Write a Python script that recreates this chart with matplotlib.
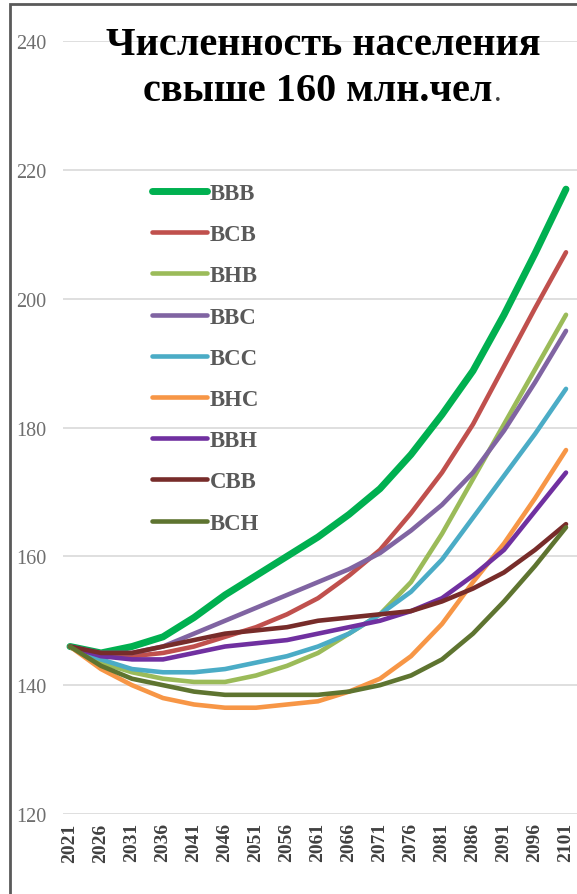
import matplotlib.pyplot as plt
from matplotlib.patches import Rectangle

# Population projections by scenario, million people
years = list(range(2021, 2102, 5))

bbb = [146, 145, 146, 147.5, 150.5, 154, 157, 160, 163, 166.5, 170.5, 175.8, 182, 188.8, 197.5, 207, 217]
bcb = [146, 144.5, 144.5, 145, 146, 147.5, 149, 151, 153.5, 157, 161, 166.7, 173, 180.5, 189.5, 198.5, 207.2]
bhb = [146, 143.5, 142, 141, 140.5, 140.5, 141.5, 143, 145, 148, 151, 156, 163.5, 172, 180.5, 189, 197.5]
bbc = [146, 145, 145, 146, 148, 150, 152, 154, 156, 158, 160.5, 164, 168, 173, 179.5, 187, 195]
bcc = [146, 144, 142.5, 142, 142, 142.5, 143.5, 144.5, 146, 148, 151, 154.5, 159.5, 166, 172.5, 179, 186]
bhc = [146, 142.5, 140, 138, 137, 136.5, 136.5, 137, 137.5, 139, 141, 144.5, 149.5, 156, 162, 169, 176.5]
bbh = [146, 144.5, 144, 144, 145, 146, 146.5, 147, 148, 149, 150, 151.5, 153.5, 157, 161, 167, 173]
cbb = [146, 145, 145, 146, 147, 148, 148.5, 149, 150, 150.5, 151, 151.5, 153, 155, 157.5, 161, 165]
bch = [146, 143, 141, 140, 139, 138.5, 138.5, 138.5, 138.5, 139, 140, 141.5, 144, 148, 153, 158.5, 164.5]

names = ['ВВВ', 'ВСВ', 'ВНВ', 'ВВС', 'ВСС', 'ВНС', 'ВВН', 'СВВ', 'ВСН']
series = [bbb, bcb, bhb, bbc, bcc, bhc, bbh, cbb, bch]
colors = ['#00B050', '#C0504D', '#9BBB59', '#8064A2', '#4BACC6',
          '#F79646', '#7030A0', '#772C2A', '#5E7430']
widths = [5.0, 3.3, 3.3, 3.3, 3.3, 3.3, 3.3, 3.3, 3.3]

title_1 = 'Численность населения'
title_2 = 'свыше 160 млн.чел'

plt.rcParams['font.family'] = ['Liberation Serif', 'DejaVu Serif']

W, H = 577, 895
fig = plt.figure(figsize=(W / 100, H / 100), dpi=100)
ax = fig.add_axes([63 / W, 80 / H, 1 - 63 / W, 773 / H])

for name, vals, c, lw in zip(names, series, colors, widths):
    ax.plot(years, vals, color=c, lw=lw, label=name,
            solid_capstyle='round', solid_joinstyle='round')

ax.set_ylim(120, 240)
ax.set_xlim(2021 - 7 / 6.2, 2021 + 507 / 6.2)
ax.set_yticks(range(120, 241, 20))
ax.set_xticks(years)
ax.set_xticklabels([str(y) for y in years], rotation=90,
                   fontsize=14, fontweight='bold', color='#404040')
ax.tick_params(axis='y', labelsize=14.5, colors='#6E6E6E', length=0, pad=12)
ax.tick_params(axis='x', length=0, pad=6)
ax.grid(axis='y', color='#D9D9D9', lw=1.2)
ax.set_axisbelow(True)
for s in ax.spines.values():
    s.set_visible(False)

# two-line title, the trailing dot is set in a lighter face
fig.text(323 / W, 1 - 55 / H, title_1, ha='center', va='baseline',
         fontsize=29, fontweight='bold', color='black')
t2 = fig.text(318 / W, 1 - 101 / H, title_2, ha='center', va='baseline',
              fontsize=29, fontweight='bold', color='black')
fig.text(0, 0, '.', transform=t2.get_transform(), fontsize=22,
         color='#404040')
fig.canvas.draw()
bb = t2.get_window_extent()
fig.texts[-1].set_position(((bb.x1 + 1) / W, 1 - 101 / H))

leg = ax.legend(loc='upper left', bbox_to_anchor=(152 / W, 1 - 184 / H),
                bbox_transform=fig.transFigure, frameon=False,
                borderpad=0, borderaxespad=0, handlelength=2.4,
                handletextpad=0.12, labelspacing=0.88,
                prop={'size': 16.5, 'weight': 'bold'})
for t in leg.get_texts():
    t.set_color('#595959')

# outer frame around the chart area
fig.patches.append(Rectangle((10 / W, -0.1), 1.2, 1 - 5 / H + 0.1,
                             transform=fig.transFigure, fill=False,
                             edgecolor='#5A5A5A', lw=2))

fig.savefig('out.png', dpi=100)
